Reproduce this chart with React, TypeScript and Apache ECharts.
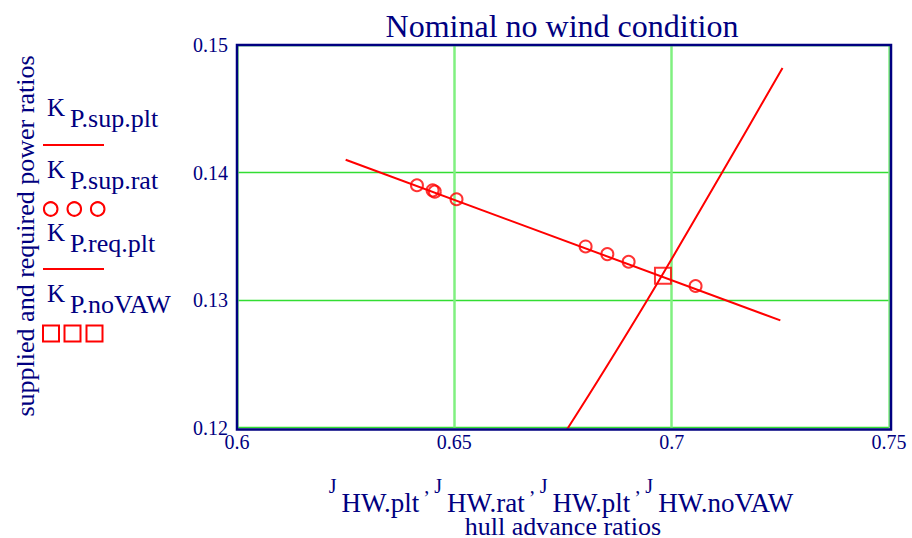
import React, { useEffect, useRef } from "react";
import * as echarts from "echarts";

// Axis ranges / ticks
const xTicks = [0.6, 0.65, 0.7, 0.75];
const yTicks = [0.12, 0.13, 0.14, 0.15];

// K_P.sup.plt (supplied power ratio, plotted line)
const supPltJ = [0.625, 0.725];
const supPltK = [0.141, 0.1284];

// K_P.sup.rat (supplied power ratio at rated points, circles)
const supRatJ = [0.6414, 0.645, 0.6455, 0.6505, 0.6802, 0.6852, 0.6901, 0.7055];
const supRatK = [0.139, 0.1386, 0.1385, 0.1379, 0.1342, 0.1336, 0.133, 0.1311];

// K_P.req.plt (required power ratio, plotted line)
const reqPltJ = [0.625, 0.65, 0.6762, 0.6944, 0.7111, 0.7255];
const reqPltK = [0.0939, 0.1064, 0.12, 0.13, 0.1397, 0.1482];

// K_P.noVAW (operating point, square)
const noVawJ = [0.698];
const noVawK = [0.1319];

const NAVY = "#000080";
const RED = "#ff0000";
const SERIF = "'Liberation Serif', 'Times New Roman', serif";

const zip = (xs: number[], ys: number[]) => xs.map((x, i) => [x, ys[i]]);

export default function App() {
  const ref = useRef<HTMLDivElement>(null);

  useEffect(() => {
    if (!ref.current) return;
    const chart = echarts.init(ref.current, undefined, { renderer: "svg" });

    const legendText = (label: string, baseY: number) => [
      {
        type: "text",
        x: 47,
        y: baseY - 8.4,
        style: { text: "K", fontSize: 25, fontFamily: SERIF, fill: NAVY, verticalAlign: "middle", align: "left" },
      },
      {
        type: "text",
        x: 70,
        y: baseY + 11.3 - 8.8,
        style: { text: label, fontSize: 26, fontFamily: SERIF, fill: NAVY, verticalAlign: "middle", align: "left" },
      },
    ];

    const option: any = {
      animation: false,
      backgroundColor: "#ffffff",
      grid: { left: 237, right: 23, top: 45, bottom: 110.5, containLabel: false },
      xAxis: {
        type: "value",
        min: xTicks[0],
        max: xTicks[xTicks.length - 1],
        interval: 0.05,
        axisLine: { show: false },
        axisTick: { show: false },
        axisLabel: { color: NAVY, fontFamily: SERIF, fontSize: 20, margin: 4, showMinLabel: true, showMaxLabel: true },
        splitLine: { show: true, lineStyle: { color: "#80f080", width: 2.5 } },
      },
      yAxis: {
        type: "value",
        min: yTicks[0],
        max: yTicks[yTicks.length - 1],
        interval: 0.01,
        axisLine: { show: false },
        axisTick: { show: false },
        axisLabel: { color: NAVY, fontFamily: SERIF, fontSize: 20, margin: 9, showMinLabel: true, showMaxLabel: true },
        splitLine: { show: true, lineStyle: { color: "#33dd33", width: 1.3 } },
      },
      series: [
        {
          name: "K P.sup.plt",
          type: "line",
          data: zip(supPltJ, supPltK),
          showSymbol: false,
          symbol: "none",
          lineStyle: { color: RED, width: 2 },
          z: 3,
        },
        {
          name: "K P.req.plt",
          type: "line",
          data: zip(reqPltJ, reqPltK),
          showSymbol: false,
          symbol: "none",
          smooth: 0.3,
          clip: true,
          lineStyle: { color: RED, width: 2 },
          z: 3,
        },
        {
          name: "K P.sup.rat",
          type: "scatter",
          data: zip(supRatJ, supRatK),
          symbol: "circle",
          symbolSize: 12,
          itemStyle: { color: "rgba(0,0,0,0)", borderColor: RED, borderWidth: 2 },
          z: 4,
        },
        {
          name: "K P.noVAW",
          type: "scatter",
          data: zip(noVawJ, noVawK),
          symbol: "rect",
          symbolSize: 16,
          itemStyle: { color: "rgba(0,0,0,0)", borderColor: RED, borderWidth: 2 },
          z: 4,
        },
      ],
      graphic: [
        {
          type: "rect",
          shape: { x: 237, y: 45, width: 654, height: 384.5 },
          style: { fill: "none", stroke: NAVY, lineWidth: 2.5 },
          z: 100,
          silent: true,
        },
        {
          type: "text",
          x: 562,
          y: 25.5,
          style: { text: "Nominal no wind condition", fontSize: 32, fontFamily: SERIF, fill: NAVY, align: "center", verticalAlign: "middle" },
        },
        {
          type: "text",
          x: 25,
          y: 236,
          rotation: Math.PI / 2,
          style: { text: "supplied and required power ratios", fontSize: 26, fontFamily: SERIF, fill: NAVY, align: "center", verticalAlign: "middle" },
        },
        {
          type: "text",
          x: 561,
          y: 476,
          style: {
            text:
              "{j|J }{s|HW.plt}{j| , }{j|J }{s|HW.rat}{j| , }{j|J }{s|HW.plt}{j| , }{j|J }{s|HW.noVAW}",
            align: "center",
            verticalAlign: "top",
            fill: NAVY,
            rich: {
              j: { fontFamily: SERIF, fontSize: 20, lineHeight: 14, verticalAlign: "top", fill: NAVY, color: NAVY },
              s: { fontFamily: SERIF, fontSize: 27, lineHeight: 40, verticalAlign: "bottom", fill: NAVY, color: NAVY },
            },
          },
        },
        {
          type: "text",
          x: 563,
          y: 526,
          style: { text: "hull advance ratios", fontSize: 26, lineHeight: 20, fontFamily: SERIF, fill: NAVY, align: "center", verticalAlign: "middle" },
        },
        ...legendText("P.sup.plt", 116),
        { type: "line", shape: { x1: 43, y1: 145, x2: 104, y2: 145 }, style: { stroke: RED, lineWidth: 2 } },
        ...legendText("P.sup.rat", 178.3),
        { type: "circle", shape: { cx: 50.7, cy: 209, r: 6.8 }, style: { fill: "none", stroke: RED, lineWidth: 2 } },
        { type: "circle", shape: { cx: 74.3, cy: 209, r: 6.8 }, style: { fill: "none", stroke: RED, lineWidth: 2 } },
        { type: "circle", shape: { cx: 97.7, cy: 209, r: 6.8 }, style: { fill: "none", stroke: RED, lineWidth: 2 } },
        ...legendText("P.req.plt", 241),
        { type: "line", shape: { x1: 43, y1: 269, x2: 104, y2: 269 }, style: { stroke: RED, lineWidth: 2 } },
        ...legendText("P.noVAW", 302),
        { type: "rect", shape: { x: 43, y: 325.5, width: 16, height: 16 }, style: { fill: "none", stroke: RED, lineWidth: 2 } },
        { type: "rect", shape: { x: 64.5, y: 325.5, width: 16, height: 16 }, style: { fill: "none", stroke: RED, lineWidth: 2 } },
        { type: "rect", shape: { x: 86.5, y: 325.5, width: 16, height: 16 }, style: { fill: "none", stroke: RED, lineWidth: 2 } },
      ],
    };

    chart.setOption(option);
    return () => chart.dispose();
  }, []);

  return (
    <div
      ref={ref}
      style={{ position: "fixed", left: 0, top: 0, width: 912, height: 538, background: "#fff" }}
    />
  );
}
